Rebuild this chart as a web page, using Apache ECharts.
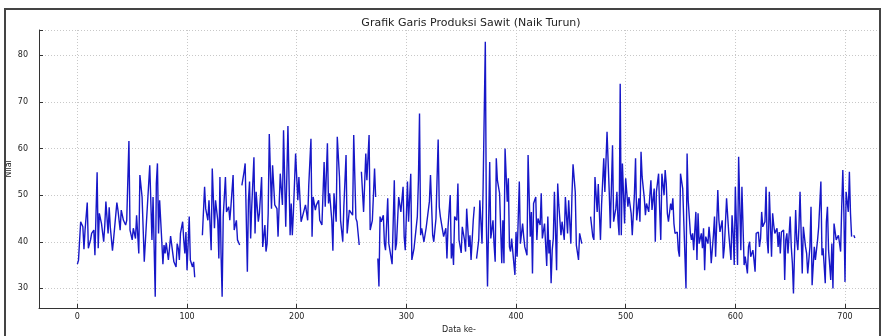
<!DOCTYPE html>
<html>
<head>
<meta charset="utf-8">
<script src="https://cdn.jsdelivr.net/npm/echarts@6/dist/echarts.min.js"></script>
<style>
  html, body { margin: 0; padding: 0; background: #fff; }
  #chart { width: 885px; height: 336px; }
</style>
</head>
<body>
<div id="chart"></div>
<script>
// [data ke-, nilai], one array per unbroken stretch of the line
const seg1 = [[0,35.2],[1,36],[3,44.3],[5,43.2],[6,38.4],[7,42.5],[9,48.4],[10,38.6],[12,40.4],[13,41.8],[15,42.5],[16,37.1],[18,54.9],[19,38.6],[20,46.1],[22,43.9],[23,44],[24,40],[25,43.6],[26,48.6],[28,41.8],[29,47.4],[30,43.2],[32,38.1],[33,40.5],[36,48.4],[37,46.8],[39,42.5],[40,46.8],[42,44.6],[44,43.6],[45,44.6],[47,61.6],[48,42.5],[50,40.4],[51,42.9],[53,40.7],[54,45.7],[56,37.5],[57,54.3],[59,49.6],[61,35.7],[63,44.3],[66,56.4],[68,40.4],[69,49.6],[71,28.2],[72,52.5],[73,56.8],[74,41.8],[75,48.9],[77,40],[78,35.2],[79,39.3],[80,37.5],[81,39.8],[83,36.1],[85,41.2],[87,37.5],[88,35.7],[90,34.6],[91,39.6],[92,38.6],[93,36.1],[94,41.8],[96,44.3],[97,40.4],[98,37.5],[99,42.1],[100,33.9],[102,45.4],[103,36.1],[105,34.6],[106,35.7],[107,32.4]];
const seg2 = [[114,41.4],[116,51.8],[117,47.1],[119,44.6],[120,48.9],[122,38.2],[123,55.7],[125,42.9],[126,48.9],[128,44.6],[129,36.4],[130,53.9],[131,37.5],[132,28.2],[133,45.4],[135,53.9],[136,46.4],[138,47.5],[139,44.6],[140,47.5],[142,54.3],[143,42.5],[145,44.6],[146,40.4],[148,39.3]];
const seg3 = [[150,52.1],[152,55],[153,56.8],[155,33.6],[156,48.9],[157,52.9],[158,40.7],[159,47.5],[161,58.1],[162,41.8],[163,50.7],[165,44.3],[166,46.1],[168,53.9],[169,38.9],[171,43.6],[172,37.9],[173,39.6],[174,46.1],[175,63.1],[177,47.1],[178,56.4],[180,47.9],[182,47.1],[183,41.1],[185,54.6],[187,47.9],[188,63.9],[190,43.2],[192,64.8],[194,41.4],[195,48.2],[196,41.4],[197,46.4],[199,58.9],[201,48.9],[202,53.9],[204,44.3],[206,46.1],[208,47.9],[210,44.6],[211,52.1],[213,62.1],[214,41.1],[215,49.6],[217,46.8],[218,47.9],[220,48.9],[221,44.6],[223,43.6],[225,57.1],[226,47.5],[228,61.1],[229,48.2],[230,50.4],[232,44.6],[233,38.1],[234,50.4],[236,44.3],[237,62.5],[239,53.9],[240,44.6],[242,40],[243,47.5],[245,58.6],[246,41.8],[248,46.8],[249,47.1],[251,45.7],[252,62.9],[254,45],[255,44.3],[257,39.3]];
const seg4 = [[259,55],[261,46.4],[263,58.9],[264,53.2],[266,62.9],[267,42.5],[269,44.6],[271,55.7],[272,49.6]];
const seg5 = [[274,36.4],[275,30.4],[276,45.4],[277,44.3],[279,45.7],[280,39.6],[281,38.2],[283,49.3],[284,39.6],[287,35.2],[289,53.2],[290,38.2],[291,39.6],[293,49.6],[295,46.4],[297,51.8],[298,41.1],[299,38.2],[301,52.9],[302,44.3],[304,54.6],[305,36.1],[307,38.6],[308,38.6],[310,45.4],[311,53.2],[312,67.5],[313,41.4],[314,42.9],[316,40],[318,42.9],[319,42.9],[321,48.6],[322,54.3],[324,41.4],[325,40],[327,45],[328,45],[329,61.9],[330,47.5],[331,45.4],[333,42.5],[334,41.1],[336,42.9],[337,36.4],[338,43.2],[340,50],[341,36.4],[342,39.6],[343,35],[344,45.4],[346,44.6],[347,52.5],[348,40.4],[350,37.6],[351,43.2],[353,40.4],[354,37.9],[355,47.1],[357,38.9],[358,41.4],[359,36.1],[361,44.6],[362,47.5]];
const seg6 = [[364,36.4],[366,40.4],[367,48.9],[369,39.6],[370,51.8],[372,82.9],[373,43.2],[374,30.4],[376,57.1],[377,40.7],[379,44.6],[380,39.3],[381,35.7],[382,57.9],[383,53.2],[385,50.4],[386,50],[387,35.4],[388,44.6],[389,35.4],[390,60],[392,48.6],[393,53.6],[394,38.9],[395,37.9],[396,40.7],[398,35.4],[399,32.9],[400,42.1],[401,36.8],[403,52.9],[404,39.6],[406,43.9],[407,41.1],[408,38.9],[410,37.1],[411,58.6],[413,41.1],[414,46.4],[415,33.2],[416,48.2],[418,49.6],[419,40.4],[420,45],[422,43.6],[423,50.4],[424,40.7],[425,40.4],[426,43.9],[428,34.8],[429,45.4],[430,37.5],[431,40.4],[432,31.1],[433,38.2],[434,40.7],[435,50.7],[437,33.9],[438,52.5],[439,47.9],[441,41.4],[442,44.3],[444,40.4],[445,49.6],[447,41.8],[448,48.9],[450,39.6],[451,50],[452,56.6],[454,50.7],[455,39.3],[457,36.1],[458,41.8],[460,39.6]];
const seg7 = [[468,45.4],[470,41.1],[471,40.4],[472,53.9],[474,46.4],[475,52.4],[477,40.4],[478,47.9],[480,57.9],[481,50.7],[483,63.6],[485,50.7],[486,42.9],[488,60.7],[489,44.3],[491,47.1],[492,50.7],[493,44.6],[494,41.4],[495,73.9],[496,41.4],[497,56.8],[499,43.9],[500,53.6],[502,47.5],[503,49.6],[505,46.1],[506,41.4],[508,50.4],[509,57.9],[510,44.6],[512,49.3],[513,44.3],[514,59.3],[515,53.9],[517,49.3],[518,45.7],[519,48.2],[521,46.4],[523,53.2],[524,46.8],[526,51.4],[527,40],[528,50.7],[530,54.6],[531,46.8],[532,40.4],[533,54.6],[535,50],[536,55.4],[537,52.5],[538,46.1],[539,44.3],[541,48.2],[542,46.8],[543,49.3],[544,43.9],[545,41.8],[547,42.1],[548,38.2],[549,36.8],[550,54.6],[552,51.4],[553,51.8],[555,30],[556,58.9],[557,48.9],[559,41.8],[560,40.4],[561,41.8],[562,38.2],[564,46.4],[565,36.1],[566,46.1],[567,39.6],[569,41.8],[570,38.6],[571,42.9],[572,33.9],[573,41.1],[575,39.6],[576,43.2],[577,40.4],[578,35.4],[580,41.4],[581,45.4],[582,36.8],[584,51.1],[585,44.6],[586,42.1],[588,44.6],[589,36.4],[590,38.9],[592,49.3],[594,41.8],[596,36.1],[597,45.7],[598,41.8],[599,35],[600,51.8],[602,35],[603,58.2],[605,38.2],[606,51.8],[608,35],[609,36.8],[611,33.2],[612,38.9],[613,40],[614,36.8],[616,38.2],[617,36.1],[618,33.6],[619,41.8],[621,42.1],[622,38.9],[623,40.7],[624,46.4],[625,43.2],[627,44.3],[628,51.8],[629,40.4],[630,37.5],[631,50.7],[633,36.8],[634,46.1],[635,43.6],[636,41.8],[638,42.9],[639,38.9],[640,42.1],[641,37.5],[642,42.1],[644,42.5],[645,31.8],[646,40.4],[647,41.8],[648,37.5],[650,45.4],[651,38.9],[652,35.4],[653,28.9],[655,46.8],[656,40.4],[657,38.2],[658,43.2],[659,50.7],[661,33.2],[662,43.2],[664,38.9],[665,37.5],[666,33.2],[668,38.9],[669,47.5],[670,30.7],[672,38.9],[673,36.1],[675,40.4],[676,43.2],[678,52.9],[679,37.1],[680,38.6],[682,31.1],[683,44.3],[684,47.5],[685,38.2],[687,31.8],[688,39.6],[689,30],[690,43.9],[691,44.3],[692,40.4],[693,40.7],[694,41.4],[696,37.9],[697,47.5],[698,55.4],[699,46.1],[700,31.4],[701,50.7],[703,46.4],[704,55],[705,46.1],[706,41.1]];
const seg8 = [[708,41.4],[709,40.8]];

const segments = [seg1, seg2, seg3, seg4, seg5, seg6, seg7, seg8];
const titleText = 'Grafik Garis Produksi Sawit (Naik Turun)';

// join the stretches with a null so the line breaks where the picture breaks
const lineData = [];
segments.forEach((seg, i) => {
  if (i > 0) lineData.push([seg[0][0] - 1, null]);
  seg.forEach(p => lineData.push(p));
});

const chart = echarts.init(document.getElementById('chart'), null, { renderer: 'canvas' });
const FONT = 'DejaVu Sans';

chart.setOption({
  animation: false,
  backgroundColor: '#fff',
  title: {
    text: titleText,
    left: 466, top: 13, textAlign: 'center',
    textStyle: { fontFamily: FONT, fontSize: 11, fontWeight: 'normal', color: '#222' }
  },
  grid: { left: 39, right: 6, top: 30, bottom: 28, containLabel: false, outerBoundsMode: 'none' },
  xAxis: {
    type: 'value', min: -35, max: 731, splitNumber: 8,
    name: 'Data ke-', nameLocation: 'middle', nameGap: 17,
    nameTextStyle: { fontFamily: FONT, fontSize: 8, color: '#222' },
    axisLine: { show: true, onZero: false, lineStyle: { color: '#333', width: 1 } },
    axisTick: { show: true, inside: true, length: 4, lineStyle: { color: '#333' } },
    axisLabel: {
      fontFamily: FONT, fontSize: 8, color: '#222', margin: 5,
      formatter: v => (v % 100 === 0 ? String(v) : '')
    },
    splitLine: { show: true, lineStyle: { color: '#c8c8c8', type: [1, 2], width: 1 } }
  },
  yAxis: {
    type: 'value', min: 25.8, max: 85.4, splitNumber: 6,
    name: 'Nilai', nameLocation: 'middle', nameGap: 26, nameRotate: 90, nameMoveOverlap: false,
    nameTextStyle: { fontFamily: FONT, fontSize: 8, color: '#222' },
    axisLine: { show: true, onZero: false, lineStyle: { color: '#333', width: 1 } },
    axisTick: { show: true, inside: true, length: 4, lineStyle: { color: '#333' } },
    axisLabel: {
      fontFamily: FONT, fontSize: 8, color: '#222', margin: 11,
      formatter: v => (v % 10 === 0 ? String(v) : '')
    },
    splitLine: { show: true, lineStyle: { color: '#c8c8c8', type: [1, 2], width: 1 } }
  },
  series: [{
    type: 'line',
    data: lineData,
    showSymbol: false,
    connectNulls: false,
    lineStyle: { color: '#1717c8', width: 1.4 },
    z: 5
  }],
  graphic: [{
    type: 'rect',
    shape: { x: 5, y: 9, width: 875, height: 340 },
    style: { fill: 'none', stroke: '#444', lineWidth: 2 },
    silent: true, z: 100
  }]
});
</script>
</body>
</html>
